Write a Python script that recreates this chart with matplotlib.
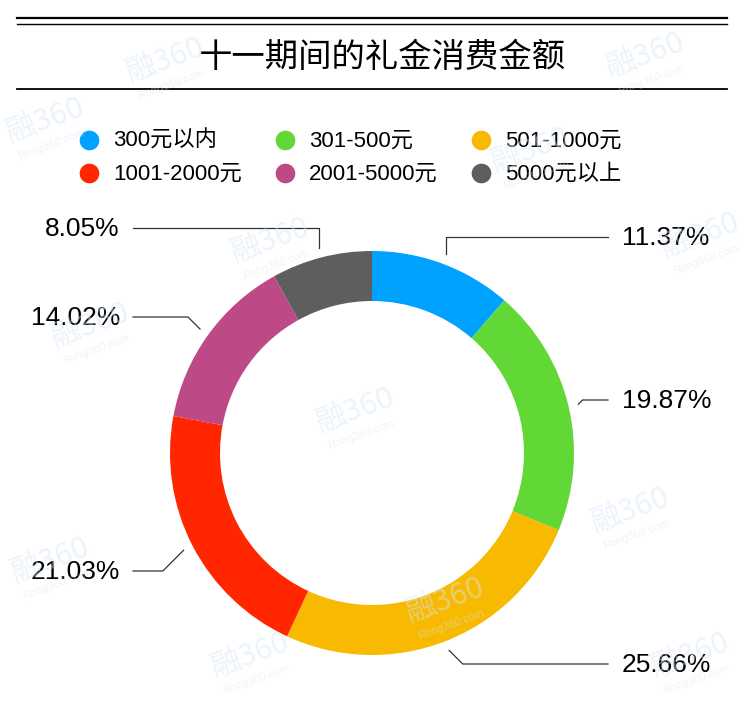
import numpy as np
import matplotlib.pyplot as plt

# 数据
categories = ["300元以内", "301-500元", "501-1000元", "1001-2000元", "2001-5000元", "5000元以上"]
shares = [11.37, 19.87, 25.66, 21.03, 14.02, 8.05]
colors = ["#00A2FF", "#61D836", "#F8BA00", "#FF2600", "#BD4A86", "#5E5E5E"]
title = "十一期间的礼金消费金额"

# 布局（像素坐标，y 向下）
W, H = 750, 708
cx, cy = 372, 453
r_out, ring = 202, 50
label_y = [237, 400, 664, 571, 317, 228]   # 标签所在行
knee_slant = [0, 1, 1, 1, 1, 0]             # 0 竖直折线, 1 45度折线

plt.rcParams['font.family'] = ['Liberation Sans', 'Noto Sans CJK SC', 'DejaVu Sans']

fig = plt.figure(figsize=(W / 100, H / 100), dpi=100)
ax = fig.add_axes([0, 0, 1, 1])

# 环形图: y 轴翻转, 所以 startangle=270 + 逆时针 = 视觉上从12点顺时针
ax.pie(shares, colors=colors, startangle=270, counterclock=True,
       center=(cx, cy), radius=r_out,
       wedgeprops=dict(width=ring, linewidth=0))
ax.set_xlim(0, W)
ax.set_ylim(H, 0)
ax.set_aspect('equal')
ax.axis('off')

# 标题和横线
ax.plot([17, 727], [18, 18], color='black', lw=1.6)
ax.plot([17, 727], [23.5, 23.5], color='black', lw=1.0)
ax.plot([17, 727], [89, 89], color='black', lw=1.3)
ax.text(382, 57, title, fontsize=24, ha='center', va='center',
        family=['Noto Sans CJK SC'], color='black')

# 图例
leg_x = [89, 285, 481]
leg_y = [140, 173]
for i, (name, c) in enumerate(zip(categories, colors)):
    x = leg_x[i % 3]
    y = leg_y[i // 3]
    ax.scatter([x], [y], s=200, color=c, marker='o', linewidths=0)
    ax.text(x + 24, y + 1, name, fontsize=16, va='center', ha='left')

# 引导线和百分比标签
cum = np.cumsum([0] + shares[:-1])
r_lead = r_out + 10
for i, v in enumerate(shares):
    ang = np.deg2rad(270 + (cum[i] + v / 2) / 100 * 360)
    sx = cx + r_lead * np.cos(ang)
    sy = cy + r_lead * np.sin(ang)
    right = np.cos(ang) > 0
    dy = label_y[i] - sy
    kx = sx + (abs(dy) if right else -abs(dy)) * knee_slant[i]
    ex = 608 if right else 133
    ax.plot([sx, kx, ex], [sy, label_y[i], label_y[i]], color='#333333', lw=0.9)
    if right:
        ax.text(622, label_y[i] + 1, f"{v:.2f}%", fontsize=19, ha='left', va='center')
    else:
        ax.text(120, label_y[i] + 1, f"{v:.2f}%", fontsize=19, ha='right', va='center')

# 水印
wm_pos = [(165, 60), (645, 55), (45, 120), (530, 150), (270, 240), (700, 235),
          (90, 325), (355, 410), (630, 510), (50, 560), (445, 600), (250, 655), (690, 655)]
for x, y in wm_pos:
    ax.text(x, y, "融360", fontsize=22, color='#d6e6f8', alpha=0.45, rotation=20,
            ha='center', va='center', family=['Noto Sans CJK SC'], zorder=10)
    ax.text(x + 6, y + 24, "Rong360.com", fontsize=8, color='#d6e6f8', alpha=0.45,
            rotation=20, ha='center', va='center', zorder=10)

fig.savefig("out.png", dpi=100)
